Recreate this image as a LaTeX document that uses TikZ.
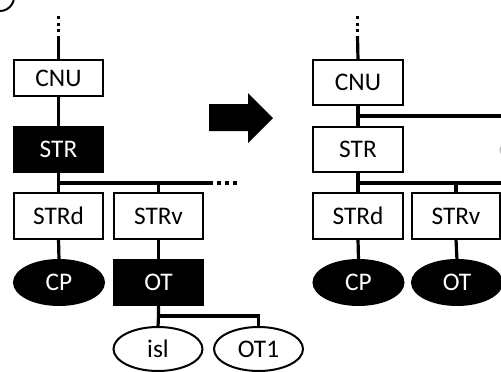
\documentclass[tikz,border=0pt]{standalone}
\usepackage{fontspec}
\setmainfont{Carlito}
\usetikzlibrary{shapes.geometric}
\begin{document}
\begin{tikzpicture}[x=0.75pt,y=-0.75pt,
  every node/.style={inner sep=0pt,outer sep=0pt,font=\fontsize{19}{22}\selectfont},
  wbox/.style={draw=black,fill=white,line width=1.5pt,minimum width=89*0.75pt,minimum height=46*0.75pt},
  bbox/.style={draw=black,fill=black,text=white,line width=1.5pt,minimum width=89*0.75pt,minimum height=45*0.75pt},
  wellip/.style={ellipse,draw=black,fill=white,line width=1.5pt,minimum width=89*0.75pt,minimum height=44*0.75pt},
  bellip/.style={ellipse,draw=black,fill=black,text=white,line width=1.5pt,minimum width=90*0.75pt,minimum height=45*0.75pt},
  conn/.style={line width=2.4pt},
  dotline/.style={line width=2.6pt,dash pattern=on 3*0.75pt off 3.5*0.75pt}]
\useasboundingbox (0,0) rectangle (501,372);
% corner arc
\draw[line width=1.5pt] (0,11) arc[start angle=90,end angle=-20,radius=14];
% ---------------- left tree ----------------
\node[wbox,minimum height=36*0.75pt] (lCNU) at (58.5,78) {CNU};
\node[bbox] (lSTR) at (58.5,149.5) {STR};
\node[wbox] (lSTRd) at (58.5,216) {STRd};
\node[wbox] (lSTRv) at (158.5,216) {STRv};
\node[bellip] (lCP) at (59,282.5) {CP};
\node[bbox] (lOT) at (158.5,282.5) {OT};
\node[wellip] (lisl) at (158,349) {isl};
\node[wellip] (lOT1) at (258.5,349) {OT1};
\coordinate (ltop) at (58.5,16);
\coordinate (ltops) at (58.5,36);
\coordinate (lj1) at (58.5,183);
\coordinate (lj1e) at (213,183);
\coordinate (lj1d) at (238,183);
\coordinate (lj2) at (158.5,316);
\draw[dotline] (ltop) -- (ltops);
\draw[conn] (ltops) -- (lCNU.north);
\draw[conn] (lCNU.south) -- (lSTR.north);
\draw[conn] (lSTR.south) -- (lj1) -- (lSTRd.north);
\draw[conn] (lj1) -- (lj1e);
\draw[dotline,dash pattern=on 4*0.75pt off 4*0.75pt] ([xshift=4*0.75pt]lj1e) -- (lj1d);
\draw[conn] (lSTRv.north |- lj1) -- (lSTRv.north);
\draw[conn] (lSTRd.south) -- (lCP.north);
\draw[conn] (lSTRv.south) -- (lOT.north);
\draw[conn] (lOT.south) -- (lj2) -- (lisl.north);
\draw[conn] (lj2) -| (lOT1.north);
% ---------------- arrow ----------------
\fill[black] (209,104) -- (248,104) -- (248,93) -- (273,118) -- (248,143) -- (248,131) -- (209,131) -- cycle;
% ---------------- right tree ----------------
\node[wbox,minimum width=90*0.75pt,minimum height=45*0.75pt] (rCNU) at (358,82.5) {CNU};
\node[wbox,minimum width=90*0.75pt,minimum height=45*0.75pt] (rSTR) at (358,149.5) {STR};
\node[wbox,minimum width=90*0.75pt] (rSTRd) at (358,216) {STRd};
\node[wbox,minimum width=88*0.75pt] (rSTRv) at (456,216) {STRv};
\node[bellip] (rCP) at (358.5,282.5) {CP};
\node[bellip] (rOT) at (457,282.5) {OT};
\coordinate (rtop) at (357.5,16);
\coordinate (rtops) at (357.5,36);
\coordinate (rj0) at (358,116);
\coordinate (rj0e) at (503,116);
\coordinate (rj1) at (358,183);
\coordinate (rj1e) at (503,183);
\draw[dotline] (rtop) -- (rtops);
\draw[conn] (rtops) -- (rCNU.north);
\draw[conn] (rCNU.south) -- (rj0) -- (rSTR.north);
\draw[conn] (rj0) -- (rj0e);
\draw[conn] (rSTR.south) -- (rj1) -- (rSTRd.north);
\draw[conn] (rj1) -- (rj1e);
\draw[conn] (rSTRv.north |- rj1) -- (rSTRv.north);
\draw[conn] (rSTRd.south) -- (rCP.north);
\draw[conn] (rSTRv.south) -- (rOT.north);
% cut-off fragment at right edge
\draw[gray!50,line width=1pt] (501.5,146) .. controls (499.5,149) .. (501.5,154);
\end{tikzpicture}
\end{document}
